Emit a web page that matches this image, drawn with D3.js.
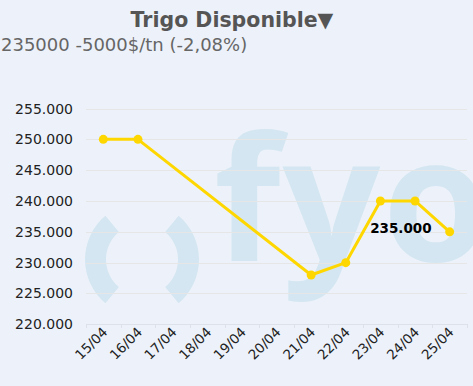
<!DOCTYPE html>
<html>
<head>
<meta charset="utf-8">
<script src="https://cdn.jsdelivr.net/npm/d3@7"></script>
<style>
  body { margin: 0; background: #edf2fa; }
  svg { display: block; }
</style>
</head>
<body>
<svg id="chart" width="473" height="386"></svg>
<script>
var dates = ["15/04", "16/04", "17/04", "18/04", "19/04", "20/04", "21/04", "22/04", "23/04", "24/04", "25/04"];
var prices = [250000, 250000, null, null, null, null, 228000, 230000, 240000, 240000, 235000];
var yTicks = [220000, 225000, 230000, 235000, 240000, 245000, 250000, 255000];

var title = "Trigo Disponible\u25BC";
var subtitle = "235000 -5000$/tn (-2,08%)";

var lineColor = "#ffd700";
var markColor = "#d4e6f1";
var fmt = function (v) { return d3.format(",")(v).replace(/,/g, "."); };

var svg = d3.select("#chart");
svg.append("rect").attr("width", 473).attr("height", 386).attr("fill", "#edf2fa");

var x = d3.scaleBand().domain(dates).range([86, 467]).padding(0);
var y = d3.scaleLinear().domain([220000, 255000]).range([324.3, 108.5]);

// watermark
var wm = svg.append("g");
var paren = d3.arc().innerRadius(36).outerRadius(57);
wm.append("path").attr("transform", "translate(142,259.5)")
    .attr("d", paren.startAngle(Math.PI * 220 / 180).endAngle(Math.PI * 320 / 180)())
    .attr("fill", markColor);
wm.append("path").attr("transform", "translate(142,259.5)")
    .attr("d", paren.startAngle(Math.PI * 40 / 180).endAngle(Math.PI * 140 / 180)())
    .attr("fill", markColor);
wm.append("text").attr("x", 214).attr("y", 261)
    .style("font-family", "'Open Sans', sans-serif").style("font-weight", "bold")
    .style("font-size", "172px").style("letter-spacing", "2px")
    .attr("fill", markColor).text("fyo");

// grid
svg.append("g").selectAll("line").data(yTicks.slice(1)).join("line")
    .attr("x1", 86).attr("x2", 467)
    .attr("y1", function (d) { return Math.round(y(d)) + 0.5; })
    .attr("y2", function (d) { return Math.round(y(d)) + 0.5; })
    .attr("stroke", "#e6e6e6").attr("stroke-width", 1);

// y labels
svg.append("g").selectAll("text").data(yTicks).join("text")
    .attr("x", 73).attr("y", function (d) { return y(d) + 5; })
    .attr("text-anchor", "end")
    .style("font-family", "'DejaVu Sans', Verdana, sans-serif").style("font-size", "14px")
    .attr("fill", "#222").text(fmt);

// x axis
var xa = svg.append("g");
xa.append("line").attr("x1", 86).attr("x2", 467).attr("y1", 324.5).attr("y2", 324.5)
    .attr("stroke", "#dde2ea");
xa.selectAll(".tk").data(dates.concat([null])).join("line").attr("class", "tk")
    .attr("x1", function (d, i) { return Math.round(86 + i * x.bandwidth()) + 0.5; })
    .attr("x2", function (d, i) { return Math.round(86 + i * x.bandwidth()) + 0.5; })
    .attr("y1", 324).attr("y2", 328).attr("stroke", "#dde2ea");
xa.selectAll("text").data(dates).join("text")
    .attr("transform", function (d) {
        return "translate(" + (x(d) + x.bandwidth() / 2 + 5) + ",333) rotate(-45)";
    })
    .attr("text-anchor", "end")
    .style("font-family", "'DejaVu Sans', Verdana, sans-serif").style("font-size", "13.5px")
    .attr("fill", "#222").text(function (d) { return d; });

// series
var pts = dates.map(function (d, i) { return { d: d, v: prices[i] }; })
    .filter(function (p) { return p.v !== null; });
var line = d3.line()
    .x(function (p) { return x(p.d) + x.bandwidth() / 2; })
    .y(function (p) { return y(p.v); });
svg.append("path").datum(pts).attr("d", line)
    .attr("fill", "none").attr("stroke", lineColor).attr("stroke-width", 3)
    .attr("stroke-linejoin", "round");
svg.append("g").selectAll("circle").data(pts).join("circle")
    .attr("cx", function (p) { return x(p.d) + x.bandwidth() / 2; })
    .attr("cy", function (p) { return y(p.v); })
    .attr("r", 4.5).attr("fill", lineColor);

var last = pts[pts.length - 1];
svg.append("text")
    .attr("x", x(last.d) + x.bandwidth() / 2 - 18).attr("y", y(last.v) + 1.5)
    .attr("text-anchor", "end")
    .style("font-family", "'DejaVu Sans', Verdana, sans-serif").style("font-size", "13.5px")
    .style("font-weight", "bold").attr("fill", "#000").text(fmt(last.v));

// titles
svg.append("text").attr("x", 232).attr("y", 27).attr("text-anchor", "middle")
    .style("font-family", "'DejaVu Sans', Verdana, sans-serif").style("font-size", "20.5px")
    .style("font-weight", "bold").attr("fill", "#555").text(title);
svg.append("text").attr("x", 1).attr("y", 51)
    .style("font-family", "'DejaVu Sans', Verdana, sans-serif").style("font-size", "18px")
    .attr("fill", "#666").text(subtitle);
</script>
</body>
</html>
